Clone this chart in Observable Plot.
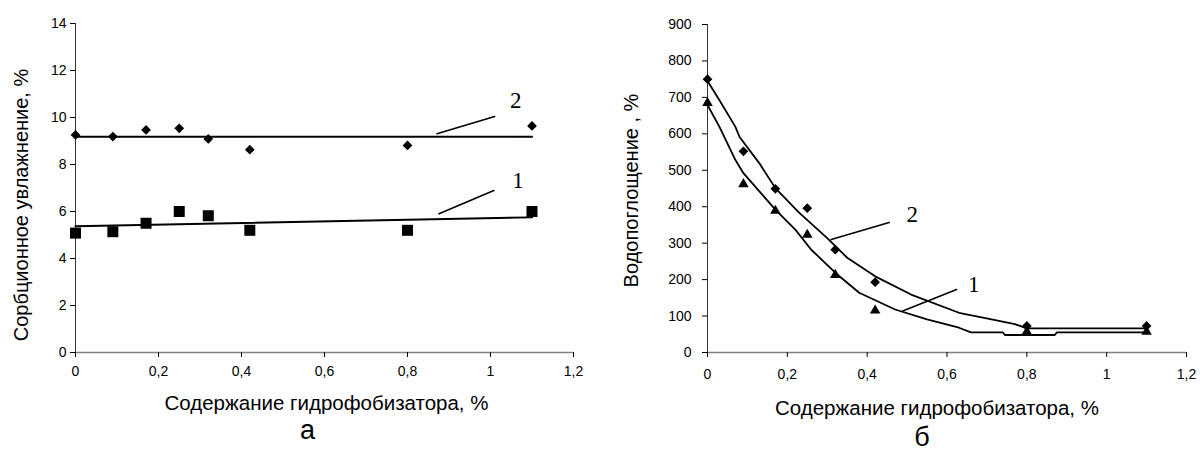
<!DOCTYPE html>
<html><head><meta charset="utf-8">
<script src="https://cdn.jsdelivr.net/npm/d3@7"></script>
<script src="https://cdn.jsdelivr.net/npm/@observablehq/plot@0.6"></script>
<style>
body{margin:0;background:#fff;}
#wrap{position:relative;width:1200px;height:457px;background:#fff;}
#a,#b{position:absolute;top:0;}
#a{left:0;} #b{left:600px;}
</style></head><body><div id="wrap"><div id="a"></div><div id="b"></div></div>
<script>
// ---- data ----
const xContent = [0, 0.09, 0.17, 0.25, 0.32, 0.42, 0.8, 1.1];
// chart а: sorption moisture, %
const sorb1 = [5.08, 5.14, 5.5, 6.0, 5.82, 5.2, 5.2, 6.0];
const sorb2 = [9.26, 9.19, 9.47, 9.54, 9.09, 8.63, 8.81, 9.64];
const trendX = [0, 1.1];
const trend1 = [5.37, 5.75];
const trend2 = [9.18, 9.18];
// chart б: water absorption, %
const water1 = [685, 462, 389, 323, 213, 115, 57, 57];
const water2 = [750, 552, 449, 396, 282, 193, 73, 73];
const curve1X = [0, 0.03, 0.07, 0.09, 0.13, 0.17, 0.22, 0.26, 0.32, 0.38, 0.47, 0.55, 0.63, 0.66, 0.74, 0.745, 0.87, 0.875, 1.1];
const curve1Y = [679, 619, 528, 492, 442, 392, 337, 282, 219, 164, 118, 91, 68, 55, 55, 48, 48, 55, 55];
const curve2X = [0, 0.03, 0.07, 0.08, 0.13, 0.17, 0.23, 0.3, 0.35, 0.42, 0.51, 0.63, 0.69, 0.77, 0.8, 1.1];
const curve2Y = [745, 692, 619, 592, 519, 451, 383, 314, 260, 209, 159, 109, 96, 78, 66, 66];
// leader lines and curve numbers
const leadA1X = [0.876, 1.008], leadA1Y = [5.9, 6.89];
const leadA2X = [0.871, 1.01], leadA2Y = [9.31, 10.04];
const numA = ["1", "2"], numAX = [1.066, 1.061], numAY = [7.32, 10.72];
const leadB1X = [0.489, 0.624], leadB1Y = [114, 173];
const leadB2X = [0.31, 0.455], leadB2Y = [310, 357];
const numB = ["1", "2"], numBX = [0.667, 0.513], numBY = [187, 378];
// ticks and labels
const xTicks = [0, 0.2, 0.4, 0.6, 0.8, 1, 1.2];
const yTicksA = [0, 2, 4, 6, 8, 10, 12, 14];
const yTicksB = [0, 100, 200, 300, 400, 500, 600, 700, 800, 900];
const xTitle = "Содержание гидрофобизатора, %";
const yTitleA = "Сорбционное увлажнение, %";
const yTitleB = "Водопоглощение , %";
const panelA = "а", panelB = "б";

const fmt = d => String(d).replace(".", ",");
const pts = (xs, ys) => xs.map((x, i) => ({x, y: ys[i]}));
const font = "'Liberation Sans', Arial, sans-serif";
const serif = "'Liberation Serif', 'Times New Roman', serif";

const chartA = Plot.plot({
  width: 600, height: 457,
  marginLeft: 75, marginRight: 27, marginTop: 23, marginBottom: 105,
  x: {domain: [0, 1.2]},
  y: {domain: [0, 14]},
  style: {fontFamily: font, fontSize: "14px", color: "#000", background: "#fff"},
  marks: [
    Plot.ruleY([0], {stroke: "#808080", strokeWidth: 1.5}),
    Plot.ruleX([0], {stroke: "#333", strokeWidth: 1}),
    Plot.axisX(xTicks, {tickFormat: fmt, tickSize: 5, tickPadding: 9, label: null, fontSize: 14}),
    Plot.axisY(yTicksA, {tickFormat: fmt, tickSize: 5, tickPadding: 4, label: null, fontSize: 14}),
    Plot.line(pts(trendX, trend1), {x: "x", y: "y", stroke: "#000", strokeWidth: 2}),
    Plot.line(pts(trendX, trend2), {x: "x", y: "y", stroke: "#000", strokeWidth: 2}),
    Plot.line(pts(leadA1X, leadA1Y), {x: "x", y: "y", stroke: "#000", strokeWidth: 1.6}),
    Plot.line(pts(leadA2X, leadA2Y), {x: "x", y: "y", stroke: "#000", strokeWidth: 1.6}),
    Plot.dot(pts(xContent, sorb1), {x: "x", y: "y", symbol: "square", r: 6.2, fill: "#000", stroke: null}),
    Plot.dot(pts(xContent, sorb2), {x: "x", y: "y", symbol: "diamond2", r: 4.4, fill: "#000", stroke: null}),
    Plot.text(numA.map((t, i) => ({t, x: numAX[i], y: numAY[i]})), {x: "x", y: "y", text: "t", fontFamily: serif, fontSize: 23}),
    Plot.text([xTitle], {frameAnchor: "bottom", lineAnchor: "middle", dy: 51, dx: 2, fontSize: 20.5}),
    Plot.text([panelA], {frameAnchor: "bottom", lineAnchor: "middle", dy: 78, dx: -17, fontSize: 27}),
    Plot.text([yTitleA], {frameAnchor: "left", textAnchor: "middle", lineAnchor: "middle", rotate: -90, dx: -54, dy: 17, fontSize: 20})
  ]
});
document.getElementById("a").append(chartA);

const chartB = Plot.plot({
  width: 600, height: 457,
  marginLeft: 107, marginRight: 14, marginTop: 24, marginBottom: 105,
  x: {domain: [0, 1.2]},
  y: {domain: [0, 900]},
  style: {fontFamily: font, fontSize: "14px", color: "#000", background: "#fff"},
  marks: [
    Plot.ruleY([0], {stroke: "#808080", strokeWidth: 1.5}),
    Plot.ruleX([0], {stroke: "#333", strokeWidth: 1}),
    Plot.axisX(xTicks, {tickFormat: fmt, tickSize: 5, tickPadding: 12, label: null, fontSize: 14}),
    Plot.axisY(yTicksB, {tickSize: 5, tickPadding: 11, label: null, fontSize: 14}),
    Plot.line(pts(curve1X, curve1Y), {x: "x", y: "y", stroke: "#000", strokeWidth: 1.8}),
    Plot.line(pts(curve2X, curve2Y), {x: "x", y: "y", stroke: "#000", strokeWidth: 1.8}),
    Plot.line(pts(leadB1X, leadB1Y), {x: "x", y: "y", stroke: "#000", strokeWidth: 1.6}),
    Plot.line(pts(leadB2X, leadB2Y), {x: "x", y: "y", stroke: "#000", strokeWidth: 1.6}),
    Plot.dot(pts(xContent, water1), {x: "x", y: "y", symbol: "triangle", r: 3.9, fill: "#000", stroke: null}),
    Plot.dot(pts(xContent, water2), {x: "x", y: "y", symbol: "diamond2", r: 4.4, fill: "#000", stroke: null}),
    Plot.text(numB.map((t, i) => ({t, x: numBX[i], y: numBY[i]})), {x: "x", y: "y", text: "t", fontFamily: serif, fontSize: 23}),
    Plot.text([xTitle], {frameAnchor: "bottom", lineAnchor: "middle", dy: 56, dx: -10, fontSize: 20.5}),
    Plot.text([panelB], {frameAnchor: "bottom", lineAnchor: "middle", dy: 85, dx: -25, fontSize: 27}),
    Plot.text([yTitleB], {frameAnchor: "left", textAnchor: "middle", lineAnchor: "middle", rotate: -90, dx: -76, dy: 2, fontSize: 20})
  ]
});
document.getElementById("b").append(chartB);
</script></body></html>
